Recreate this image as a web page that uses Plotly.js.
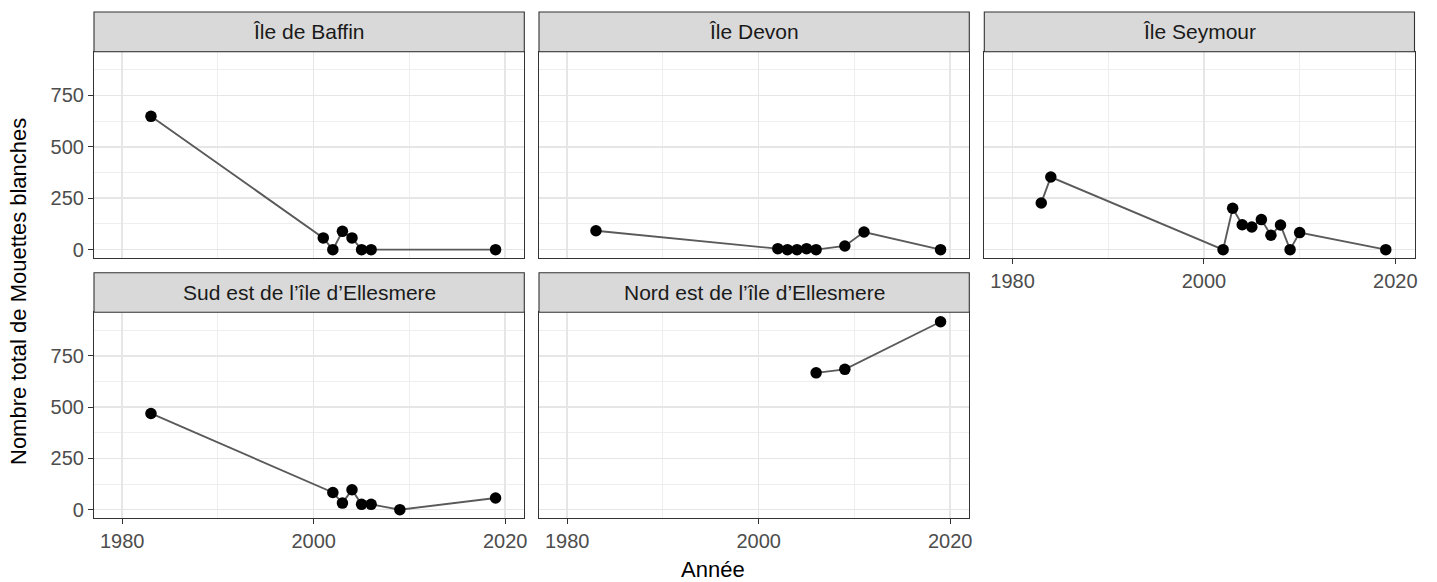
<!DOCTYPE html>
<html><head><meta charset="utf-8">
<script src="https://cdn.plot.ly/plotly-3.0.1.min.js"></script>
<style>html,body{margin:0;padding:0;background:#fff}</style>
</head><body><div id="chart" style="width:1437px;height:582px"></div>
<script>
// ---- data ----
const panelNames = ["Île de Baffin", "Île Devon", "Île Seymour", "Sud est de l’île d’Ellesmere", "Nord est de l’île d’Ellesmere"];
const baffinYears = [1983, 2001, 2002, 2003, 2004, 2005, 2006, 2019];
const baffinCounts = [648, 57, 0, 89, 57, 0, 0, 0];
const devonYears = [1983, 2002, 2003, 2004, 2005, 2006, 2009, 2011, 2019];
const devonCounts = [92, 5, 0, 0, 5, 0, 18, 86, 0];
const seymourYears = [1983, 1984, 2002, 2003, 2004, 2005, 2006, 2007, 2008, 2009, 2010, 2019];
const seymourCounts = [227, 353, 0, 201, 121, 110, 146, 70, 120, 0, 83, 0];
const sudEstYears = [1983, 2002, 2003, 2004, 2005, 2006, 2009, 2019];
const sudEstCounts = [469, 84, 32, 97, 26, 26, 0, 57];
const nordEstYears = [2006, 2009, 2019];
const nordEstCounts = [667, 684, 916];
const xTickVals = [1980, 2000, 2020];
const yTickVals = [0, 250, 500, 750];
const xTitle = "Année";
const yTitle = "Nombre total de Mouettes blanches";

// ---- layout geometry ----
const W = 1437, H = 582;
const FONT = "Liberation Sans, Arial, Helvetica, sans-serif";
const colDom = [[94, 524.3], [539, 969.3], [984.3, 1414.5]];
const rowPlot = [[51.7, 258.3], [312.3, 518.3]];
const rowStrip = [[12, 51.7], [272.7, 312.3]];
const px2x = p => p / W;
const px2y = p => 1 - p / H;

const series = [
  {x: baffinYears, y: baffinCounts, col: 0, row: 0, xl: false, yl: true},
  {x: devonYears, y: devonCounts, col: 1, row: 0, xl: false, yl: false},
  {x: seymourYears, y: seymourCounts, col: 2, row: 0, xl: true, yl: false},
  {x: sudEstYears, y: sudEstCounts, col: 0, row: 1, xl: true, yl: true},
  {x: nordEstYears, y: nordEstCounts, col: 1, row: 1, xl: true, yl: false}
];

const traces = [];
const layout = {
  width: W, height: H,
  margin: {l: 0, r: 0, t: 0, b: 0},
  paper_bgcolor: "#fff", plot_bgcolor: "#fff",
  showlegend: false,
  font: {family: FONT, color: "#4D4D4D", size: 20},
  shapes: [], annotations: []
};

series.forEach((s, i) => {
  const n = i + 1;
  const xa = "x" + (n === 1 ? "" : n), ya = "y" + (n === 1 ? "" : n);
  traces.push({
    type: "scatter", mode: "lines+markers",
    x: s.x, y: s.y, xaxis: xa, yaxis: ya,
    line: {color: "#5A5A5A", width: 1.9},
    marker: {color: "#000000", size: 11.5},
    hoverinfo: "x+y"
  });
  const xd = [px2x(colDom[s.col][0]), px2x(colDom[s.col][1])];
  const yd = [px2y(rowPlot[s.row][1]), px2y(rowPlot[s.row][0])];
  layout["xaxis" + (n === 1 ? "" : n)] = {
    domain: xd, anchor: ya, range: [1977.05, 2022.0],
    tickmode: "array", tickvals: xTickVals,
    showticklabels: s.xl, ticks: s.xl ? "outside" : "", ticklen: 5, tickwidth: 1.1, tickcolor: "#333333",
    tickfont: {size: 20, color: "#4D4D4D", family: FONT},
    showgrid: true, gridcolor: "#E6E6E6", gridwidth: 1.5,
    minor: {tickmode: "array", tickvals: [1990, 2010], showgrid: true, gridcolor: "#EEEEEE", gridwidth: 1, ticks: ""},
    zeroline: false, showline: true, linecolor: "#333333", linewidth: 1.1, mirror: true,
    fixedrange: true
  };
  layout["yaxis" + (n === 1 ? "" : n)] = {
    domain: yd, anchor: xa, range: [-42, 962],
    tickmode: "array", tickvals: yTickVals,
    showticklabels: s.yl, ticks: s.yl ? "outside" : "", ticklen: 5, tickwidth: 1.1, tickcolor: "#333333",
    tickfont: {size: 20, color: "#4D4D4D", family: FONT},
    showgrid: true, gridcolor: "#E6E6E6", gridwidth: 1.5,
    minor: {tickmode: "array", tickvals: [125, 375, 625, 875], showgrid: true, gridcolor: "#EEEEEE", gridwidth: 1, ticks: ""},
    zeroline: false, showline: true, linecolor: "#333333", linewidth: 1.1, mirror: true,
    fixedrange: true
  };
  // strip
  layout.shapes.push({
    type: "rect", xref: "paper", yref: "paper",
    x0: xd[0], x1: xd[1], y0: px2y(rowStrip[s.row][1]), y1: px2y(rowStrip[s.row][0]),
    fillcolor: "#D9D9D9", line: {color: "#333333", width: 1.1}, layer: "above"
  });
  layout.annotations.push({
    xref: "paper", yref: "paper",
    x: (xd[0] + xd[1]) / 2, y: px2y((rowStrip[s.row][0] + rowStrip[s.row][1]) / 2),
    xanchor: "center", yanchor: "middle", showarrow: false,
    text: panelNames[i], font: {size: 21, color: "#1A1A1A", family: FONT}
  });
});

layout.annotations.push({
  xref: "paper", yref: "paper", x: px2x(713), y: px2y(584),
  xanchor: "center", yanchor: "bottom", showarrow: false,
  text: xTitle, font: {size: 22, color: "#000000", family: FONT}
});
layout.annotations.push({
  xref: "paper", yref: "paper", x: px2x(18), y: px2y(292),
  xanchor: "center", yanchor: "middle", showarrow: false, textangle: -90,
  text: yTitle, font: {size: 22, color: "#000000", family: FONT}
});

Plotly.newPlot("chart", traces, layout, {displayModeBar: false, staticPlot: true});
</script>
</body></html>
